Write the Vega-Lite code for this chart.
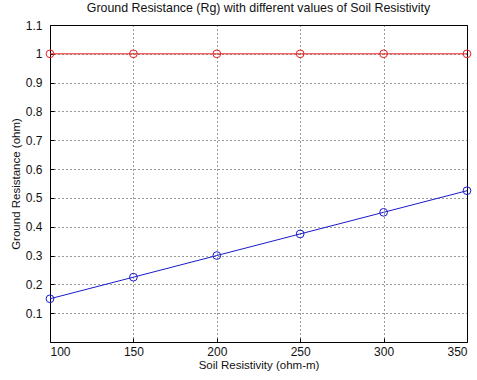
{
  "$schema": "https://vega.github.io/schema/vega-lite/v6.json",
  "autosize": "none",
  "width": 417,
  "height": 317,
  "padding": {"left": 50, "top": 25, "right": 10, "bottom": 38},
  "background": "white",
  "title": {"text": "Ground Resistance (Rg) with different values of Soil Resistivity", "font": "Liberation Sans", "fontSize": 12.4, "fontWeight": "normal", "color": "#111", "offset": 5},
  "config": {"view": {"stroke": "#000", "strokeWidth": 1}},
  "data": {"values": [
    {"rho": 100, "rg": 0.15, "series": "Rg"},
    {"rho": 150, "rg": 0.225, "series": "Rg"},
    {"rho": 200, "rg": 0.3, "series": "Rg"},
    {"rho": 250, "rg": 0.375, "series": "Rg"},
    {"rho": 300, "rg": 0.45, "series": "Rg"},
    {"rho": 350, "rg": 0.525, "series": "Rg"},
    {"rho": 100, "rg": 1, "series": "Ref"},
    {"rho": 150, "rg": 1, "series": "Ref"},
    {"rho": 200, "rg": 1, "series": "Ref"},
    {"rho": 250, "rg": 1, "series": "Ref"},
    {"rho": 300, "rg": 1, "series": "Ref"},
    {"rho": 350, "rg": 1, "series": "Ref"}
  ]},
  "encoding": {
    "x": {"field": "rho", "type": "quantitative", "scale": {"domain": [100, 350], "nice": false},
      "axis": {"title": "Soil Resistivity (ohm-m)", "values": [100, 150, 200, 250, 300, 350], "grid": true, "gridColor": "#000", "gridDash": [1, 3], "gridOpacity": 0.8, "domain": false, "tickColor": "#000", "tickSize": -4, "labelPadding": 8, "labelFont": "Liberation Sans", "labelFontSize": 12, "labelColor": "#111", "titleFont": "Liberation Sans", "titleFontSize": 11.5, "titleFontWeight": "normal", "titleColor": "#111", "titlePadding": 2}},
    "y": {"field": "rg", "type": "quantitative", "scale": {"domain": [0, 1.1], "nice": false},
      "axis": {"title": "Ground Resistance (ohm)", "format": "~g", "values": [0.1, 0.2, 0.3, 0.4, 0.5, 0.6, 0.7, 0.8, 0.9, 1, 1.1], "grid": true, "gridColor": "#000", "gridDash": [1, 3], "gridOpacity": 0.8, "domain": false, "tickColor": "#000", "tickSize": -4, "labelPadding": 12, "labelFont": "Liberation Sans", "labelFontSize": 12, "labelColor": "#111", "titleFont": "Liberation Sans", "titleFontSize": 11.5, "titleFontWeight": "normal", "titleColor": "#111", "titlePadding": 4}},
    "color": {"field": "series", "type": "nominal", "scale": {"domain": ["Rg", "Ref"], "range": ["#1a1acc", "#e62020"]}, "legend": null}
  },
  "layer": [
    {"mark": {"type": "line", "strokeWidth": 1}},
    {"mark": {"type": "point", "shape": "circle", "filled": false, "size": 60, "strokeWidth": 1, "opacity": 1}}
  ]
}
